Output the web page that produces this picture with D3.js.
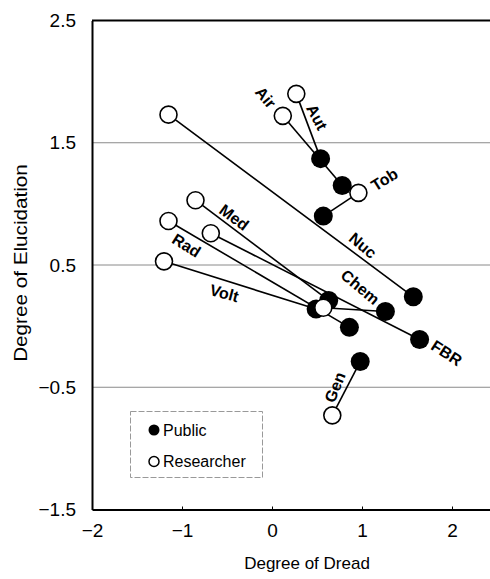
<!DOCTYPE html>
<html>
<head>
<meta charset="utf-8">
<script src="https://cdn.jsdelivr.net/npm/d3@7"></script>
<style>
  body { margin: 0; background: #fff; }
  svg { display: block; font-family: "Liberation Sans", Arial, Helvetica, sans-serif; }
</style>
</head>
<body>
<svg width="490" height="579"></svg>
<script>
// hazards, public vs researcher scores
var hazards = ["Air", "Aut", "Tob", "Nuc", "Med", "Rad", "Volt", "Chem", "FBR", "Gen"];
var publicDread = [0.78, 0.54, 0.57, 1.57, 0.63, 0.86, 0.49, 1.26, 1.64, 0.98];
var publicElucidation = [1.15, 1.37, 0.90, 0.24, 0.21, -0.01, 0.14, 0.12, -0.11, -0.29];
var researcherDread = [0.12, 0.27, 0.96, -1.15, -0.85, -1.15, -1.20, 0.57, -0.68, 0.67];
var researcherElucidation = [1.72, 1.90, 1.09, 1.73, 1.03, 0.86, 0.53, 0.15, 0.76, -0.73];

var xTicks = [-2, -1, 0, 1, 2];
var yTicks = [-1.5, -0.5, 0.5, 1.5, 2.5];
var seriesNames = ["Public", "Researcher"];

// where the hazard names sit (data units) and their rotation
var labelLayout = {
  Air:  {x: -0.07, y: 1.87, a: 50},
  Aut:  {x: 0.50, y: 1.71, a: 62},
  Tob:  {x: 1.25, y: 1.20, a: -32},
  Nuc:  {x: 1.01, y: 0.66, a: 40},
  Med:  {x: -0.42, y: 0.89, a: 37},
  Rad:  {x: -0.95, y: 0.66, a: 32},
  Volt: {x: -0.53, y: 0.27, a: 15},
  Chem: {x: 0.98, y: 0.32, a: 40},
  FBR:  {x: 1.94, y: -0.22, a: 33},
  Gen:  {x: 0.70, y: -0.50, a: -68}
};

var svg = d3.select("svg");

var x = d3.scaleLinear().domain([-2, 2.5]).range([92, 497]);
var y = d3.scaleLinear().domain([-1.5, 2.5]).range([509.5, 20.5]);

var data = hazards.map(function(h, i) {
  return {name: h, px: publicDread[i], py: publicElucidation[i],
          rx: researcherDread[i], ry: researcherElucidation[i]};
});

// grid lines
svg.append("g")
  .selectAll("line")
  .data(yTicks.filter(function(d) { return d > -1.5 && d < 2.5; }))
  .enter().append("line")
  .attr("x1", x(-2)).attr("x2", 490)
  .attr("y1", function(d) { return y(d); })
  .attr("y2", function(d) { return y(d); })
  .attr("stroke", "#8a8a8a")
  .attr("stroke-width", 1);

// top border
svg.append("line")
  .attr("x1", x(-2)).attr("x2", 490)
  .attr("y1", y(2.5)).attr("y2", y(2.5))
  .attr("stroke", "#000").attr("stroke-width", 2);

// x axis
var xAxis = svg.append("g")
  .attr("transform", "translate(0," + y(-1.5) + ")")
  .call(d3.axisBottom(x).tickValues(xTicks).tickFormat(d3.format("d"))
    .tickSizeInner(-3).tickSizeOuter(0).tickPadding(14));
xAxis.select(".domain").attr("stroke-width", 2);
xAxis.selectAll("text").attr("font-size", 19).attr("fill", "#000")
  .attr("font-family", "Liberation Sans, Arial, sans-serif");

// y axis
var yAxis = svg.append("g")
  .attr("transform", "translate(" + x(-2) + ",0)")
  .call(d3.axisLeft(y).tickValues(yTicks).tickFormat(d3.format(".1f"))
    .tickSize(0).tickPadding(16));
yAxis.select(".domain").attr("stroke-width", 2);
yAxis.selectAll("text").attr("font-size", 19).attr("fill", "#000")
  .attr("font-family", "Liberation Sans, Arial, sans-serif");

// axis titles
svg.append("text")
  .attr("x", 307).attr("y", 569)
  .attr("text-anchor", "middle")
  .attr("font-size", 17)
  .text("Degree of Dread");

svg.append("text")
  .attr("transform", "translate(27,263) rotate(-90) scale(1.15,1)")
  .attr("text-anchor", "middle")
  .attr("font-size", 18)
  .text("Degree of Elucidation");

// connecting lines
svg.append("g")
  .selectAll("line")
  .data(data)
  .enter().append("line")
  .attr("x1", function(d) { return x(d.rx); })
  .attr("y1", function(d) { return y(d.ry); })
  .attr("x2", function(d) { return x(d.px); })
  .attr("y2", function(d) { return y(d.py); })
  .attr("stroke", "#000")
  .attr("stroke-width", 1.6);

// public points
svg.append("g")
  .selectAll("circle")
  .data(data)
  .enter().append("circle")
  .attr("cx", function(d) { return x(d.px); })
  .attr("cy", function(d) { return y(d.py); })
  .attr("r", 9.5)
  .attr("fill", "#000");

// researcher points
svg.append("g")
  .selectAll("circle")
  .data(data)
  .enter().append("circle")
  .attr("cx", function(d) { return x(d.rx); })
  .attr("cy", function(d) { return y(d.ry); })
  .attr("r", 8.5)
  .attr("fill", "#fff")
  .attr("stroke", "#000")
  .attr("stroke-width", 1.6);

// hazard labels
svg.append("g")
  .selectAll("text")
  .data(data)
  .enter().append("text")
  .attr("transform", function(d) {
    var l = labelLayout[d.name];
    return "translate(" + x(l.x) + "," + y(l.y) + ") rotate(" + l.a + ")";
  })
  .attr("text-anchor", "middle")
  .attr("dy", "0.35em")
  .attr("font-size", 16)
  .attr("font-weight", "bold")
  .text(function(d) { return d.name; });

// legend
var legend = svg.append("g");
legend.append("rect")
  .attr("x", 130.5).attr("y", 411.5)
  .attr("width", 132).attr("height", 66)
  .attr("fill", "none")
  .attr("stroke", "#999")
  .attr("stroke-width", 1)
  .attr("stroke-dasharray", "6,2");

var items = legend.selectAll("g")
  .data(seriesNames)
  .enter().append("g")
  .attr("transform", function(d, i) { return "translate(154," + (430 + i * 31.5) + ")"; });

items.append("circle")
  .attr("r", function(d, i) { return i === 0 ? 5.5 : 5; })
  .attr("fill", function(d, i) { return i === 0 ? "#000" : "#fff"; })
  .attr("stroke", "#000")
  .attr("stroke-width", function(d, i) { return i === 0 ? 0 : 1.5; });

items.append("text")
  .attr("x", 9)
  .attr("dy", "0.36em")
  .attr("font-size", 16)
  .text(function(d) { return d; });
</script>
</body>
</html>
